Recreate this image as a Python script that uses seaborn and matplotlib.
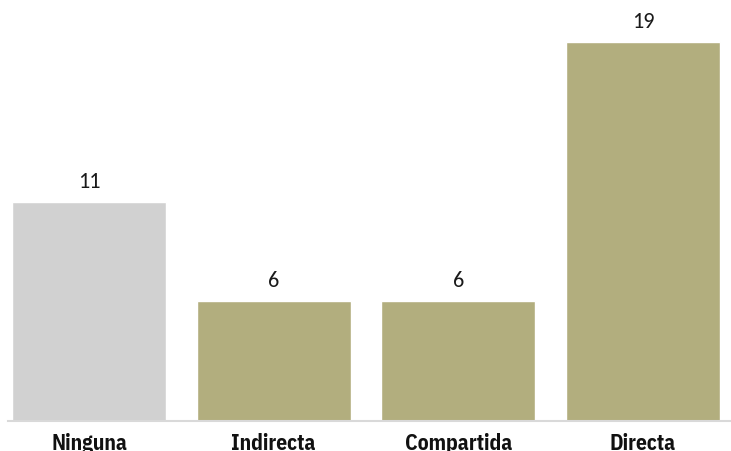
import matplotlib
matplotlib.use("Agg")
import matplotlib.pyplot as plt
import seaborn as sns
import pandas as pd

# data
categories = ["Ninguna", "Indirecta", "Compartida", "Directa"]
values = [11, 6, 6, 19]
colors = ["#d1d1d1", "#b2ae7e", "#b2ae7e", "#b2ae7e"]

df = pd.DataFrame({"cat": categories, "val": values})

sns.set_style("white")
plt.rcParams["font.family"] = ["Carlito", "DejaVu Sans"]

fig = plt.figure(figsize=(7.31, 4.51), dpi=100)
ax = fig.add_axes([8 / 731, 30 / 451, 723 / 731, 421 / 451])

sns.barplot(data=df, x="cat", y="val", hue="cat", palette=colors,
            legend=False, width=0.835, saturation=1, ax=ax)

for i, v in enumerate(values):
    ax.annotate(str(v), (i, v), xytext=(0, 10), textcoords="offset points",
                ha="center", va="baseline", fontsize=16, color="#1a1a1a")

ax.set_xlim(-0.439, 3.477)
ax.set_ylim(0, 21.1)
ax.set_xlabel("")
ax.set_ylabel("")
ax.set_yticks([])
ax.tick_params(axis="x", length=0, pad=8.5)
for lab in ax.get_xticklabels():
    lab.set_fontfamily(["IBM Plex Sans Condensed", "DejaVu Sans"])
    lab.set_fontweight("bold")
    lab.set_fontsize(15.5)
    lab.set_color("#111111")

for s in ["top", "right", "left"]:
    ax.spines[s].set_visible(False)
ax.spines["bottom"].set_color("#d9d9d9")
ax.spines["bottom"].set_linewidth(1.5)

fig.savefig("out.png", dpi=100)
